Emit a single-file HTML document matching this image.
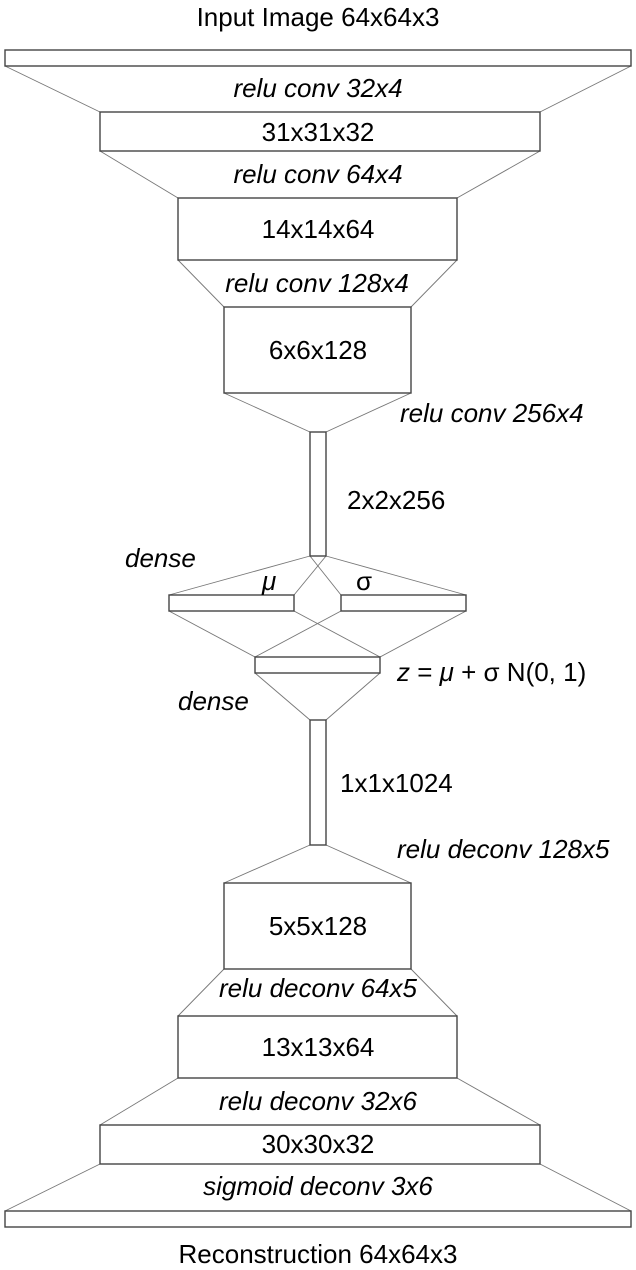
<!DOCTYPE html>
<html><head><meta charset="utf-8"><style>
html,body{margin:0;padding:0;background:#fff;}
svg{display:block;}
text{font-family:"Liberation Sans",Arial,sans-serif;font-size:26px;fill:#000;}
.i{font-style:italic;}
.l{stroke:#777;stroke-width:0.9;fill:none;}
.b{stroke:#444;stroke-width:1.4;fill:#fff;}
</style></head><body>
<svg width="636" height="1270" viewBox="0 0 636 1270" xmlns="http://www.w3.org/2000/svg">
<g class="l">
<line x1="5" y1="66" x2="100" y2="112"/><line x1="631" y1="66" x2="540" y2="112"/>
<line x1="100" y1="151" x2="178" y2="198"/><line x1="540" y1="151" x2="457" y2="198"/>
<line x1="178" y1="260" x2="224" y2="307"/><line x1="457" y1="260" x2="411" y2="307"/>
<line x1="224" y1="393" x2="310" y2="432"/><line x1="411" y1="393" x2="326" y2="432"/>
<line x1="310" y1="556" x2="169" y2="595"/><line x1="326" y1="556" x2="466" y2="595"/>
<line x1="326" y1="556" x2="294" y2="595"/><line x1="310" y1="556" x2="341" y2="595"/>
<line x1="169" y1="611" x2="255" y2="657"/><line x1="294" y1="611" x2="380" y2="657"/>
<line x1="341" y1="611" x2="255" y2="657"/><line x1="466" y1="611" x2="380" y2="657"/>
<line x1="255" y1="673" x2="310" y2="720"/><line x1="380" y1="673" x2="326" y2="720"/>
<line x1="310" y1="845" x2="224" y2="883"/><line x1="326" y1="845" x2="411" y2="883"/>
<line x1="224" y1="969" x2="178" y2="1016"/><line x1="411" y1="969" x2="457" y2="1016"/>
<line x1="178" y1="1078" x2="100" y2="1125"/><line x1="457" y1="1078" x2="540" y2="1125"/>
<line x1="100" y1="1164" x2="5" y2="1211"/><line x1="540" y1="1164" x2="631" y2="1211"/>
</g>
<g class="b">
<rect x="5" y="50" width="626" height="16"/>
<rect x="100" y="112" width="440" height="39"/>
<rect x="178" y="198" width="279" height="62"/>
<rect x="224" y="307" width="187" height="86"/>
<rect x="310" y="432" width="16" height="124"/>
<rect x="169" y="595" width="125" height="16"/>
<rect x="341" y="595" width="125" height="16"/>
<rect x="255" y="657" width="125" height="16"/>
<rect x="310" y="720" width="16" height="125"/>
<rect x="224" y="883" width="187" height="86"/>
<rect x="178" y="1016" width="279" height="62"/>
<rect x="100" y="1125" width="440" height="39"/>
<rect x="5" y="1211" width="626" height="16"/>
</g>
<g text-anchor="middle">
<text x="318" y="26">Input Image 64x64x3</text>
<text class="i" x="318" y="97">relu conv 32x4</text>
<text x="318" y="141">31x31x32</text>
<text class="i" x="318" y="183">relu conv 64x4</text>
<text x="318" y="238">14x14x64</text>
<text class="i" x="317" y="292">relu conv 128x4</text>
<text x="318" y="359">6x6x128</text>
<text x="318" y="935">5x5x128</text>
<text class="i" x="318" y="997">relu deconv 64x5</text>
<text x="318" y="1056">13x13x64</text>
<text class="i" x="318" y="1110">relu deconv 32x6</text>
<text x="318" y="1153">30x30x32</text>
<text class="i" x="318" y="1195">sigmoid deconv 3x6</text>
<text x="318" y="1263">Reconstruction 64x64x3</text>
</g>
<text class="i" x="400" y="422">relu conv 256x4</text>
<text x="347" y="509">2x2x256</text>
<text class="i" x="125" y="567">dense</text>
<text class="i" x="262" y="590">μ</text>
<text x="356" y="590">σ</text>
<text x="397" y="681"><tspan class="i">z</tspan> = <tspan class="i">μ</tspan> + σ N(0, 1)</text>
<text class="i" x="178" y="710">dense</text>
<text x="340" y="792">1x1x1024</text>
<text class="i" x="397" y="858">relu deconv 128x5</text>
</svg>
</body></html>
